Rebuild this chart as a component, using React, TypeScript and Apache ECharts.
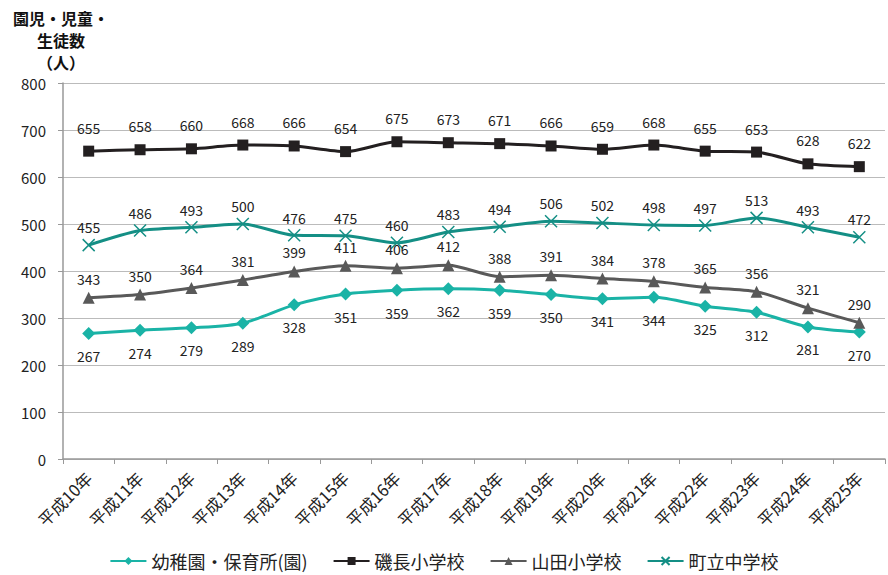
import React, { useEffect, useRef } from "react";
import * as echarts from "echarts";

const categories = ["平成10年","平成11年","平成12年","平成13年","平成14年","平成15年","平成16年","平成17年","平成18年","平成19年","平成20年","平成21年","平成22年","平成23年","平成24年","平成25年"];
const kindergarten = [267,274,279,289,328,351,359,362,359,350,341,344,325,312,281,270];
const shinaga = [655,658,660,668,666,654,675,673,671,666,659,668,655,653,628,622];
const yamada = [343,350,364,381,399,411,406,412,388,391,384,378,365,356,321,290];
const juniorHigh = [455,486,493,500,476,475,460,483,494,506,502,498,497,513,493,472];
const yTicks = [0, 100, 200, 300, 400, 500, 600, 700, 800];
const titleLines = ["園児・児童・", "生徒数", "（人）"];

const FONT = "'Noto Sans CJK JP', 'Noto Sans', sans-serif";

export default function App() {
  const ref = useRef<HTMLDivElement>(null);
  useEffect(() => {
    const chart = echarts.init(ref.current!, null, { renderer: "svg" });
    const lbl = (pos: string, dist: number) => ({
      show: true, position: pos, distance: dist, fontSize: 14, color: "#222", fontFamily: FONT,
    });
    chart.setOption({
      animation: false,
      textStyle: { fontFamily: FONT },
      graphic: titleLines.map((t, i) => ({
        type: "text", x: 61, y: 18 + i * 22,
        style: { text: t, fontSize: 16, fontWeight: "bold", fill: "#111", fontFamily: FONT, textAlign: "center", textVerticalAlign: "middle" },
      })),
      grid: { left: 63, right: 3, top: 83, bottom: 116 },
      legend: {
        bottom: 0, left: "center", itemGap: 25, itemWidth: 36, itemHeight: 10,
        textStyle: { fontSize: 18, color: "#222", fontFamily: FONT },
        data: ["幼稚園・保育所(園)", "磯長小学校", "山田小学校", "町立中学校"],
      },
      xAxis: {
        type: "category", data: categories, boundaryGap: true,
        axisLine: { lineStyle: { color: "#999", width: 1.5 } },
        axisTick: { show: true, length: 5, lineStyle: { color: "#999" } },
        axisLabel: { rotate: 45, fontSize: 16.5, color: "#222", margin: 16, fontFamily: FONT },
      },
      yAxis: {
        type: "value", min: yTicks[0], max: yTicks[yTicks.length - 1], interval: 100,
        axisLine: { show: true, lineStyle: { color: "#999", width: 1.5 } },
        axisTick: { show: true, length: 5, lineStyle: { color: "#999" } },
        axisLabel: { fontSize: 15, color: "#222", margin: 17, fontFamily: FONT },
        splitLine: { lineStyle: { color: "#bbb", width: 1 } },
      },
      series: [
        {
          name: "幼稚園・保育所(園)", type: "line", data: kindergarten, smooth: 0.25,
          symbol: "diamond", symbolSize: 13,
          itemStyle: { color: "#1ab3a6" }, lineStyle: { color: "#1ab3a6", width: 3 },
          label: lbl("bottom", 9),
        },
        {
          name: "磯長小学校", type: "line", data: shinaga, smooth: 0.25,
          symbol: "rect", symbolSize: 11,
          itemStyle: { color: "#231f20" }, lineStyle: { color: "#231f20", width: 3 },
          label: lbl("top", 11),
        },
        {
          name: "山田小学校", type: "line", data: yamada, smooth: 0.25,
          symbol: "triangle", symbolSize: 12,
          itemStyle: { color: "#595959" }, lineStyle: { color: "#595959", width: 3 },
          label: lbl("top", 6),
        },
        {
          name: "町立中学校", type: "line", data: juniorHigh, smooth: 0.25,
          symbol: "path://M0,0L10,10M10,0L0,10", symbolSize: 12,
          itemStyle: { color: "#148f85", borderColor: "#148f85", borderWidth: 1.5 },
          lineStyle: { color: "#148f85", width: 3 },
          label: lbl("top", 4),
        },
      ],
    });
    return () => chart.dispose();
  }, []);
  return <div ref={ref} style={{ width: 888, height: 575, position: "absolute", left: 0, top: 0 }} />;
}
